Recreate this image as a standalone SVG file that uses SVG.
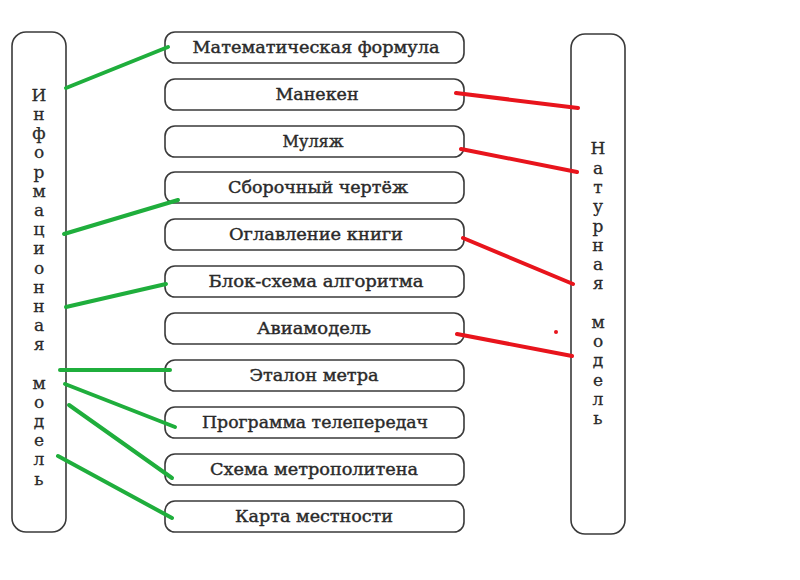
<svg xmlns="http://www.w3.org/2000/svg" width="800" height="580" viewBox="0 0 800 580">
<style>
.frame{fill:#fff;stroke:#3a3a3a;stroke-width:1.6}
.lbl{font-family:"DejaVu Serif","Liberation Serif",serif;font-size:16px;fill:#2a2a2a;stroke:#2a2a2a;stroke-width:0.4;text-anchor:middle}
.vt{font-family:"DejaVu Serif","Liberation Serif",serif;font-size:17px;fill:#2a2a2a;stroke:#2a2a2a;stroke-width:0.3;text-anchor:middle}
.g{stroke:#1fae3c;stroke-width:4;stroke-linecap:round;fill:none}
.r{stroke:#e8141c;stroke-width:4;stroke-linecap:round;fill:none}
</style>
<rect width="800" height="580" fill="#fff"/>
<g id="info-model">
<rect class="frame" x="12" y="32" width="54" height="500" rx="14"/>
<text class="vt"><tspan x="39" y="101">И</tspan><tspan x="39" y="120">н</tspan><tspan x="39" y="139">ф</tspan><tspan x="39" y="158">о</tspan><tspan x="39" y="178">р</tspan><tspan x="39" y="197">м</tspan><tspan x="39" y="216">а</tspan><tspan x="39" y="235">ц</tspan><tspan x="39" y="254">и</tspan><tspan x="39" y="274">о</tspan><tspan x="39" y="293">н</tspan><tspan x="39" y="312">н</tspan><tspan x="39" y="331">а</tspan><tspan x="39" y="350">я</tspan><tspan x="39" y="389">м</tspan><tspan x="39" y="408">о</tspan><tspan x="39" y="427">д</tspan><tspan x="39" y="446">е</tspan><tspan x="39" y="465">л</tspan><tspan x="39" y="485">ь</tspan></text>
</g>
<g id="nature-model">
<rect class="frame" x="571" y="34" width="54" height="500" rx="14"/>
<text class="vt"><tspan x="598" y="154">Н</tspan><tspan x="598" y="174">а</tspan><tspan x="598" y="193">т</tspan><tspan x="598" y="212">у</tspan><tspan x="598" y="232">р</tspan><tspan x="598" y="251">н</tspan><tspan x="598" y="270">а</tspan><tspan x="598" y="289">я</tspan><tspan x="598" y="328">м</tspan><tspan x="598" y="347">о</tspan><tspan x="598" y="366">д</tspan><tspan x="598" y="386">е</tspan><tspan x="598" y="405">л</tspan><tspan x="598" y="424">ь</tspan></text>
</g>
<g id="n1"><rect class="frame" x="165" y="32" width="299" height="31" rx="10"/><text class="lbl" x="316" y="53" textLength="247" lengthAdjust="spacingAndGlyphs">Математическая формула</text></g>
<g id="n2"><rect class="frame" x="165" y="79" width="299" height="31" rx="10"/><text class="lbl" x="317" y="100" textLength="83" lengthAdjust="spacingAndGlyphs">Манекен</text></g>
<g id="n3"><rect class="frame" x="165" y="126" width="299" height="31" rx="10"/><text class="lbl" x="313" y="147" textLength="61" lengthAdjust="spacingAndGlyphs">Муляж</text></g>
<g id="n4"><rect class="frame" x="165" y="172" width="299" height="31" rx="10"/><text class="lbl" x="318" y="193" textLength="180" lengthAdjust="spacingAndGlyphs">Сборочный чертёж</text></g>
<g id="n5"><rect class="frame" x="165" y="219" width="299" height="31" rx="10"/><text class="lbl" x="316" y="240" textLength="174" lengthAdjust="spacingAndGlyphs">Оглавление книги</text></g>
<g id="n6"><rect class="frame" x="165" y="266" width="299" height="31" rx="10"/><text class="lbl" x="316" y="287" textLength="215" lengthAdjust="spacingAndGlyphs">Блок-схема алгоритма</text></g>
<g id="n7"><rect class="frame" x="165" y="313" width="299" height="31" rx="10"/><text class="lbl" x="314" y="334" textLength="114" lengthAdjust="spacingAndGlyphs">Авиамодель</text></g>
<g id="n8"><rect class="frame" x="165" y="360" width="299" height="31" rx="10"/><text class="lbl" x="314" y="381" textLength="129" lengthAdjust="spacingAndGlyphs">Эталон метра</text></g>
<g id="n9"><rect class="frame" x="165" y="407" width="299" height="31" rx="10"/><text class="lbl" x="315" y="428" textLength="226" lengthAdjust="spacingAndGlyphs">Программа телепередач</text></g>
<g id="n10"><rect class="frame" x="165" y="454" width="299" height="31" rx="10"/><text class="lbl" x="314" y="475" textLength="208" lengthAdjust="spacingAndGlyphs">Схема метрополитена</text></g>
<g id="n11"><rect class="frame" x="165" y="501" width="299" height="31" rx="10"/><text class="lbl" x="314" y="522" textLength="158" lengthAdjust="spacingAndGlyphs">Карта местности</text></g>
<g id="connectors">
<line class="g" x1="66" y1="88" x2="168" y2="47"/>
<line class="g" x1="64" y1="234" x2="178" y2="200"/>
<line class="g" x1="66" y1="307" x2="166" y2="284"/>
<line class="g" x1="60" y1="370" x2="170" y2="370"/>
<line class="g" x1="65" y1="384" x2="175" y2="427"/>
<line class="g" x1="69" y1="405" x2="172" y2="478"/>
<line class="g" x1="58" y1="456" x2="172" y2="518"/>
<line class="r" x1="456" y1="93" x2="578" y2="108"/>
<line class="r" x1="461" y1="149" x2="577" y2="172"/>
<line class="r" x1="463" y1="238" x2="573" y2="284"/>
<line class="r" x1="457" y1="334" x2="572" y2="356"/>
<circle cx="556" cy="332" r="2" fill="#e8141c"/>
</g>
</svg>
